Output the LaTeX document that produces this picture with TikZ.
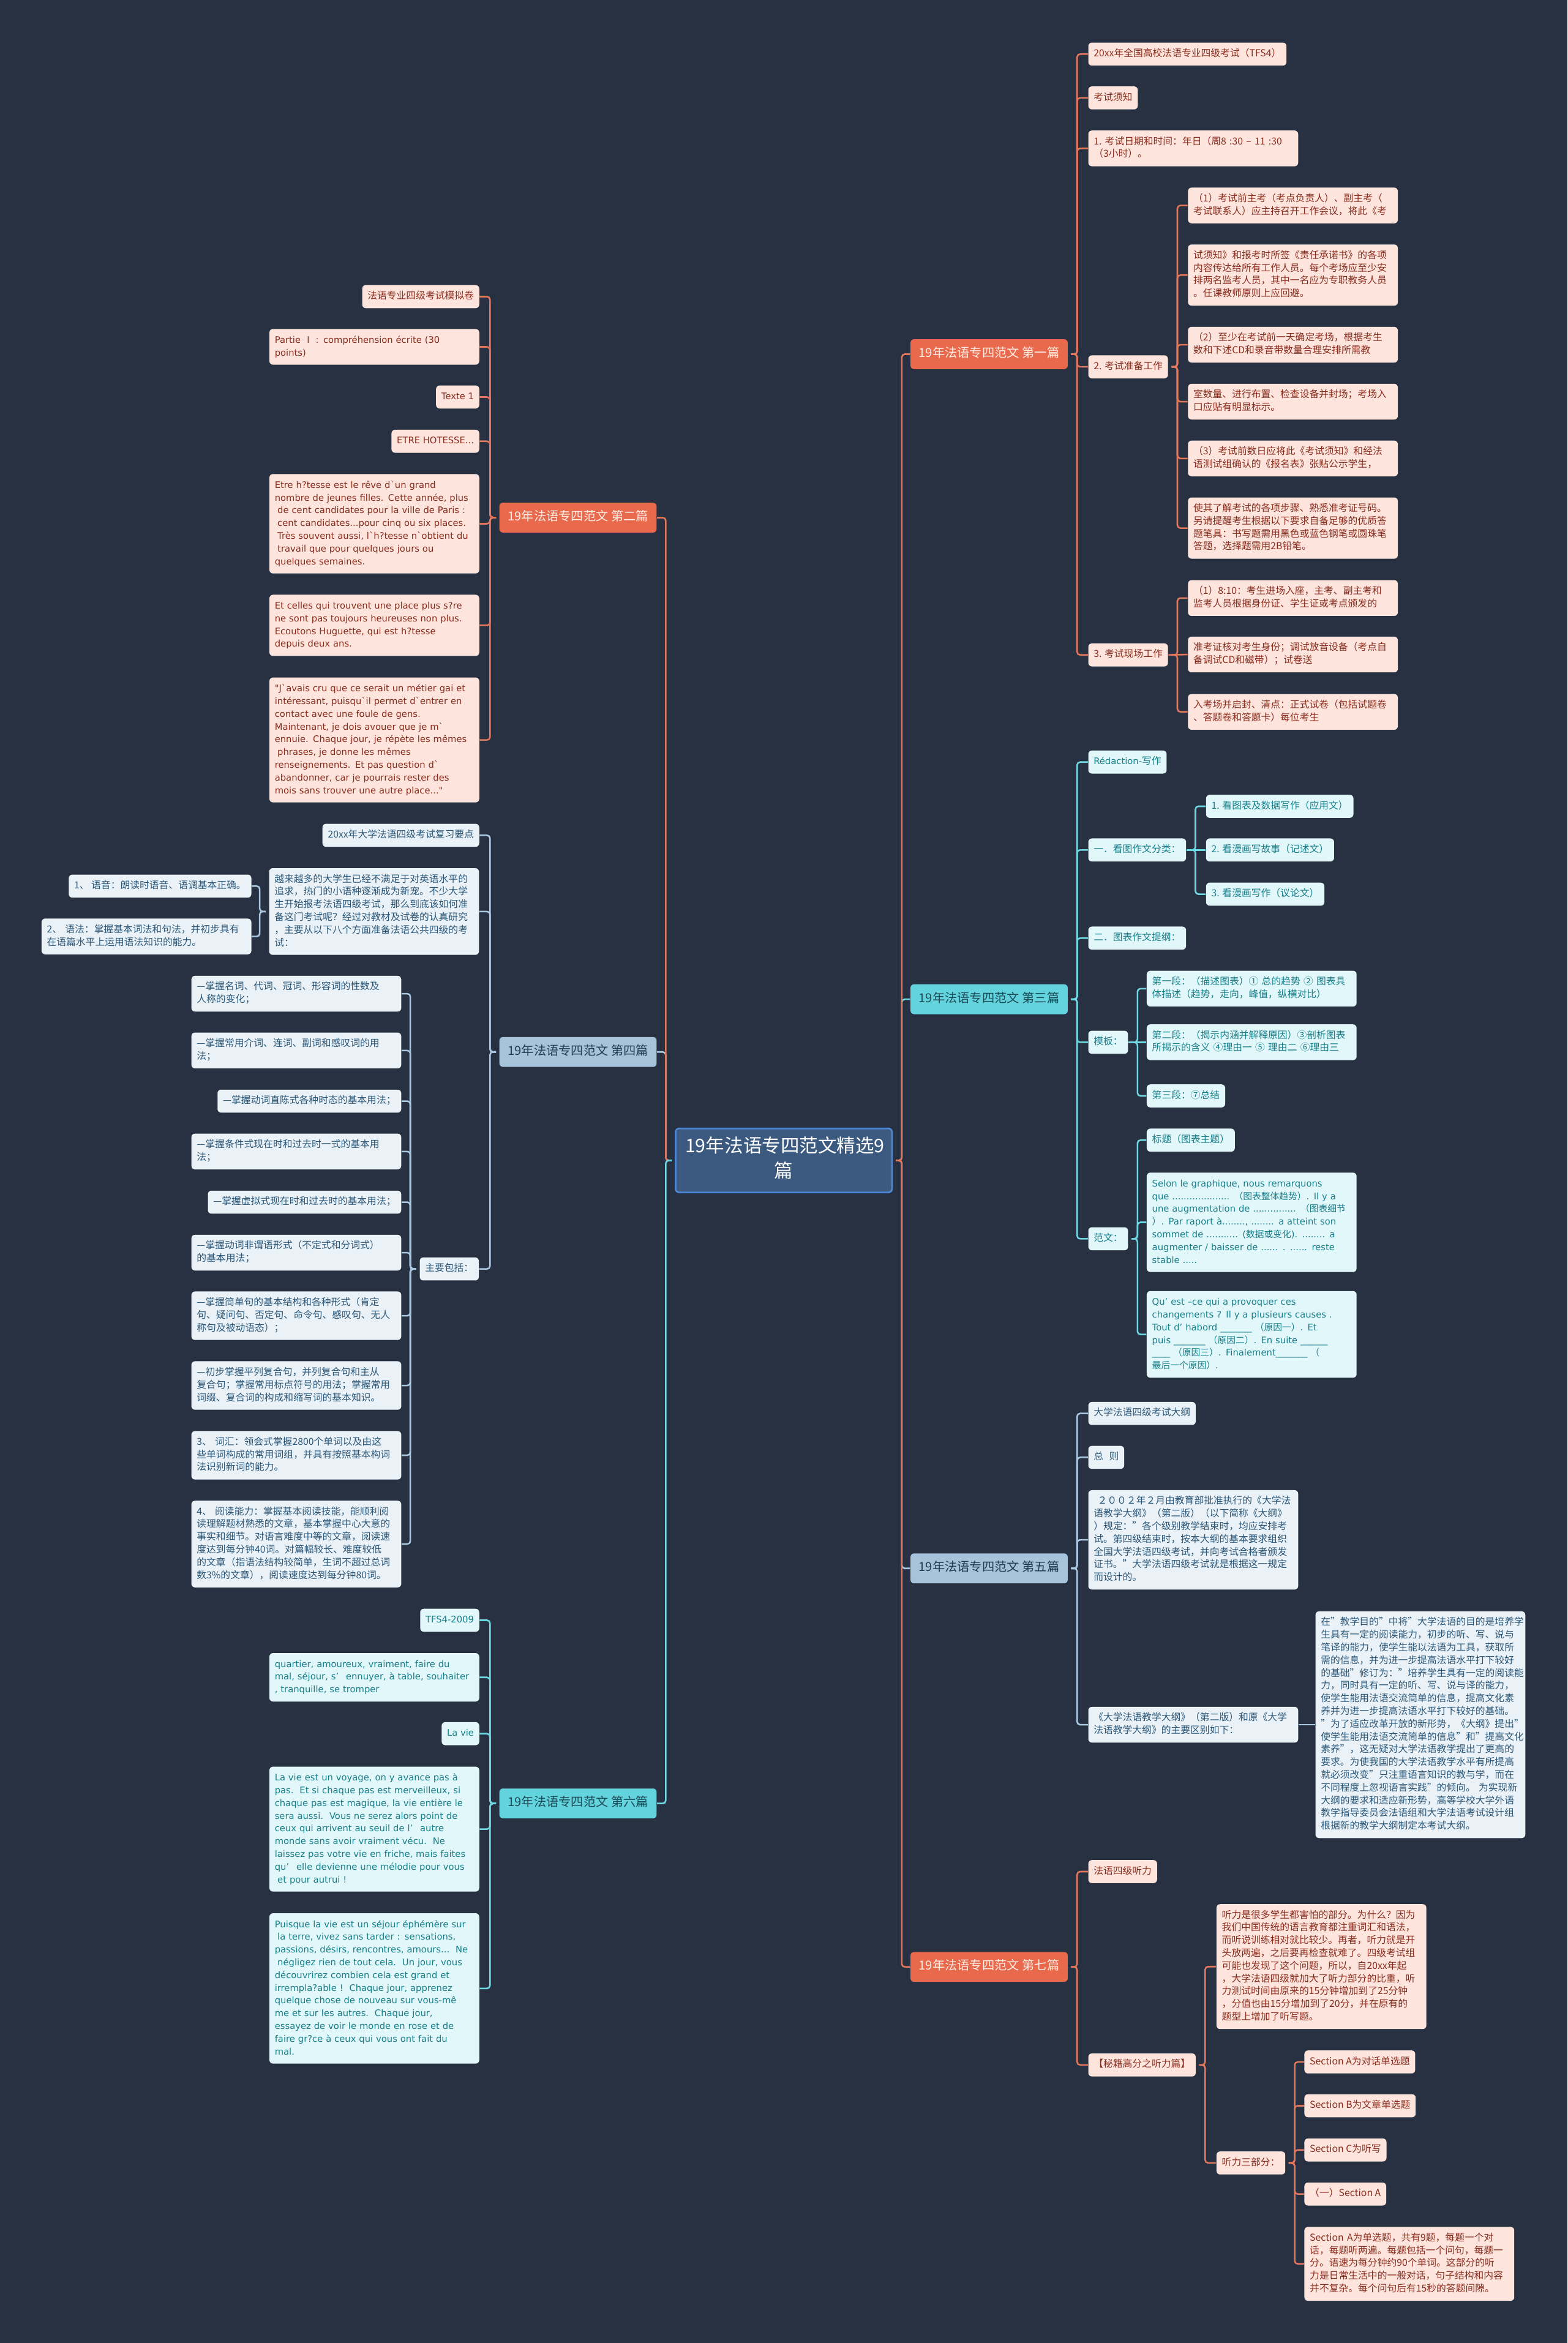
\documentclass[tikz,border=0pt]{standalone}
\usepackage{fontspec}
\setmainfont{Noto Sans CJK SC}
\newfontfamily\zh{Noto Sans CJK SC}
\newfontfamily\fr{DejaVu Sans}
\newcommand\frs{\fr\fontsize{4.3}{6.06}\selectfont}

\definecolor{bgc}{HTML}{283142}
\definecolor{rootfill}{HTML}{3C5A80}
\definecolor{rootline}{HTML}{4D86D1}
\definecolor{orgb}{HTML}{E8694B}
\definecolor{orgl}{HTML}{E4765B}
\definecolor{orgc}{HTML}{FDE5DD}
\definecolor{orgt}{HTML}{8A2C1D}
\definecolor{orgbt}{HTML}{FFEDE6}
\definecolor{cyab}{HTML}{63D4DE}
\definecolor{cyal}{HTML}{6ED8E2}
\definecolor{cyac}{HTML}{E2F7F9}
\definecolor{cyat}{HTML}{16808B}
\definecolor{cyabt}{HTML}{1D4C57}
\definecolor{stlb}{HTML}{A5C3DA}
\definecolor{stll}{HTML}{A9C8DF}
\definecolor{stlc}{HTML}{EAF2F8}
\definecolor{stlt}{HTML}{2B5778}
\definecolor{stlbt}{HTML}{233C55}

\begin{document}
\begin{tikzpicture}[x=0.025cm, y=-0.025cm,
    every node/.style={rounded corners=0.06cm, inner xsep=0.09cm, inner ysep=0.086cm,
      execute at begin node=\strut, execute at end node=\strut},
    rootbox/.style={fill=rootfill, draw=rootline, line width=0.8pt, text=white,
      font=\fontsize{8.9}{10.7}\selectfont, text width=3.3cm, align=center,
      inner xsep=0.16cm, inner ysep=0.14cm},
    branch/.style={font=\fontsize{5.9}{7.4}\selectfont, inner xsep=0.14cm, inner ysep=0.12cm},
    orgbr/.style={branch, fill=orgb, text=orgbt},
    cyabr/.style={branch, fill=cyab, text=cyabt},
    stlbr/.style={branch, fill=stlb, text=stlbt},
    leaf/.style={font=\fontsize{4.6}{6.06}\selectfont},
    orgbox/.style={leaf, fill=orgc, text=orgt},
    cyabox/.style={leaf, fill=cyac, text=cyat},
    stlbox/.style={leaf, fill=stlc, text=stlt},
    frtxt/.style={font=\frs},
    widebox/.style={text width=3.33cm, align=left},
    link/.style={line width=0.75pt, rounded corners=0.05cm},
    orgln/.style={link, draw=orgl},
    cyaln/.style={link, draw=cyal},
    stlln/.style={link, draw=stll}]

  \fill[bgc] (0,0) rectangle (1049,1568);

  % centre and main branches
  \node[rootbox] (root) at (524.5,776.6) {19年法语专四范文精选9\\篇};

  \node[orgbr, anchor=west] (b1) at (609,237) {19年法语专四范文 第一篇};
  \node[cyabr, anchor=west] (b3) at (609,668.7) {19年法语专四范文 第三篇};
  \node[stlbr, anchor=west] (b5) at (609,1049.6) {19年法语专四范文 第五篇};
  \node[orgbr, anchor=west] (b7) at (609,1316.3) {19年法语专四范文 第七篇};
  \node[orgbr, anchor=east] (b2) at (439.7,346.4) {19年法语专四范文 第二篇};
  \node[stlbr, anchor=east] (b4) at (439.7,704) {19年法语专四范文 第四篇};
  \node[cyabr, anchor=east] (b6) at (439.7,1206.9) {19年法语专四范文 第六篇};

  % first
  \node[orgbox, anchor=west] (a1) at (728,36.2) {20xx年全国高校法语专业四级考试（TFS4）};
  \node[orgbox, anchor=west] (a2) at (728,65.5) {考试须知};
  \node[orgbox, widebox, anchor=west] (a3) at (728,99.3) {1.~考试日期和时间：年日（周8~:30~–~11~:30\\（3小时）。};
  \node[orgbox, anchor=west] (a4) at (728,245.5) {2. 考试准备工作};
  \node[orgbox, anchor=west] (a5) at (728,438.3) {3. 考试现场工作};
  \node[orgbox, widebox, anchor=west] (p21) at (794.7,137.5) {（1）考试前主考（考点负责人）、副主考（\\考试联系人）应主持召开工作会议，将此《考};
  \node[orgbox, widebox, anchor=west] (p22) at (794.7,184.1) {试须知》和报考时所签《责任承诺书》的各项\\内容传达给所有工作人员。每个考场应至少安\\排两名监考人员，其中一名应为专职教务人员\\。任课教师原则上应回避。};
  \node[orgbox, widebox, anchor=west] (p23) at (794.7,230.7) {（2）至少在考试前一天确定考场，根据考生\\数和下述CD和录音带数量合理安排所需教};
  \node[orgbox, widebox, anchor=west] (p24) at (794.7,268.8) {室数量、进行布置、检查设备并封场；考场入\\口应贴有明显标示。};
  \node[orgbox, widebox, anchor=west] (p25) at (794.7,306.8) {（3）考试前数日应将此《考试须知》和经法\\语测试组确认的《报名表》张贴公示学生，};
  \node[orgbox, widebox, anchor=west] (p26) at (794.7,353.4) {使其了解考试的各项步骤、熟悉准考证号码。\\另请提醒考生根据以下要求自备足够的优质答\\题笔具：书写题需用黑色或蓝色钢笔或圆珠笔\\答题，选择题需用2B铅笔。};
  \node[orgbox, widebox, anchor=west] (p31) at (794.7,400.2) {（1）8:10：考生进场入座，主考、副主考和\\监考人员根据身份证、学生证或考点颁发的};
  \node[orgbox, widebox, anchor=west] (p32) at (794.7,438) {准考证核对考生身份；调试放音设备（考点自\\备调试CD和磁带）；试卷送};
  \node[orgbox, widebox, anchor=west] (p33) at (794.7,476.4) {入考场并启封、清点：正式试卷（包括试题卷\\、答题卷和答题卡）每位考生};

  % third
  \node[cyabox, anchor=west] (d1) at (728,510) {{\frs Rédaction-}写作};
  \node[cyabox, anchor=west] (d2) at (728,568.8) {一．看图作文分类：};
  \node[cyabox, anchor=west] (e1) at (806.8,539.6) {1. 看图表及数据写作（应用文）};
  \node[cyabox, anchor=west] (e2) at (806.8,568.8) {2. 看漫画写故事（记述文）};
  \node[cyabox, anchor=west] (e3) at (806.8,598.4) {3. 看漫画写作（议论文）};
  \node[cyabox, anchor=west] (d3) at (728,627.8) {二．图表作文提纲：};
  \node[cyabox, anchor=west] (d4) at (728,697.5) {模板：};
  \node[cyabox, widebox, anchor=west] (f1) at (767.1,661.6) {第一段：（描述图表）①~总的趋势~②~图表具\\体描述（趋势，走向，峰值，纵横对比）};
  \node[cyabox, widebox, anchor=west] (f2) at (767.1,697.5) {第二段：（揭示内涵并解释原因）③剖析图表\\所揭示的含义~④理由一~⑤~理由二~⑥理由三};
  \node[cyabox, anchor=west] (f3) at (767.1,733.4) {第三段：⑦总结};
  \node[cyabox, anchor=west] (d5) at (728,829) {范文：};
  \node[cyabox, anchor=west] (g1) at (767.1,763) {标题（图表主题）};
  \node[cyabox, frtxt, widebox, anchor=west] (g2) at (767.1,818) {Selon le graphique, nous remarquons\\que .................... {\zh （图表整体趋势）}. Il y a\\une augmentation de ............... {\zh （图表细节}\\{\zh ）}. Par raport à........, ........ a atteint son\\sommet de ........... ({\zh 数据或变化}). ........ a\\augmenter / baisser de ...... . ...... reste\\stable .....};
  \node[cyabox, frtxt, widebox, anchor=west] (g3) at (767.1,893) {Qu’ est –ce qui a provoquer ces\\changements ? Il y a plusieurs causes .\\Tout d’ habord \_\_\_\_\_\_\_ {\zh （原因一）}. Et\\puis \_\_\_\_\_\_\_ {\zh （原因二）}. En suite \_\_\_\_\_\_\\\_\_\_\_ {\zh （原因三）}. Finalement\_\_\_\_\_\_\_ {\zh （}\\{\zh 最后一个原因）}.};

  % fifth
  \node[stlbox, anchor=west] (h1) at (728,945.9) {大学法语四级考试大纲};
  \node[stlbox, anchor=west] (h2) at (728,975.3) {总\hspace{0.6em}则};
  \node[stlbox, widebox, anchor=west] (h3) at (728,1030.5) {\hspace{0.4em}２００２年２月由教育部批准执行的《大学法\\语教学大纲》（第二版）（以下简称《大纲》\\）规定："各个级别教学结束时，均应安排考\\试。第四级结束时，按本大纲的基本要求组织\\全国大学法语四级考试，并向考试合格者颁发\\证书。"大学法语四级考试就是根据这一规定\\而设计的。};
  \node[stlbox, widebox, anchor=west] (h4) at (728,1154.2) {《大学法语教学大纲》（第二版）和原《大学\\法语教学大纲》的主要区别如下：};
  \node[stlbox, widebox, anchor=west] (i1) at (880,1154.2) {在"教学目的"中将"大学法语的目的是培养学\\生具有一定的阅读能力，初步的听、写、说与\\笔译的能力，使学生能以法语为工具，获取所\\需的信息，并为进一步提高法语水平打下较好\\的基础"修订为："培养学生具有一定的阅读能\\力，同时具有一定的听、写、说与译的能力，\\使学生能用法语交流简单的信息，提高文化素\\养并为进一步提高法语水平打下较好的基础。\\"为了适应改革开放的新形势，《大纲》提出"\\使学生能用法语交流简单的信息"和"提高文化\\素养"，这无疑对大学法语教学提出了更高的\\要求。为使我国的大学法语教学水平有所提高\\就必须改变"只注重语言知识的教与学，而在\\不同程度上忽视语言实践"的倾向。~为实现新\\大纲的要求和适应新形势，高等学校大学外语\\教学指导委员会法语组和大学法语考试设计组\\根据新的教学大纲制定本考试大纲。};

  % seventh
  \node[orgbox, anchor=west] (j1) at (728,1252.5) {法语四级听力};
  \node[orgbox, anchor=west] (j2) at (728,1381.9) {【秘籍高分之听力篇】};
  \node[orgbox, widebox, anchor=west] (k1) at (813.8,1316.1) {听力是很多学生都害怕的部分。为什么？因为\\我们中国传统的语言教育都注重词汇和语法，\\而听说训练相对就比较少。再者，听力就是开\\头放两遍，之后要再检查就难了。四级考试组\\可能也发现了这个问题，所以，自20xx年起\\，大学法语四级就加大了听力部分的比重，听\\力测试时间由原来的15分钟增加到了25分钟\\，分值也由15分增加到了20分，并在原有的\\题型上增加了听写题。};
  \node[orgbox, anchor=west] (k2) at (813.8,1447.5) {听力三部分：};
  \node[orgbox, anchor=west] (l1) at (872.6,1379.9) {Section A为对话单选题};
  \node[orgbox, anchor=west] (l2) at (872.6,1409.2) {Section B为文章单选题};
  \node[orgbox, anchor=west] (l3) at (872.6,1438.8) {Section C为听写};
  \node[orgbox, anchor=west] (l4) at (872.6,1468.3) {（一）Section A};
  \node[orgbox, widebox, anchor=west] (l5) at (872.6,1515) {Section~A为单选题，共有9题，每题一个对\\话，每题听两遍。每题包括一个问句，每题一\\分。语速为每分钟约90个单词。这部分的听\\力是日常生活中的一般对话，句子结构和内容\\并不复杂。每个问句后有15秒的答题间隙。};

  % second
  \node[orgbox, anchor=east] (m1) at (321,198.5) {法语专业四级考试模拟卷};
  \node[orgbox, frtxt, widebox, anchor=east] (m2) at (321,232.1) {Partie {\zh Ⅰ} : compréhension écrite (30\\points)};
  \node[orgbox, frtxt, anchor=east] (m3) at (321,265.7) {Texte 1};
  \node[orgbox, frtxt, anchor=east] (m4) at (321,295.3) {ETRE HOTESSE...};
  \node[orgbox, frtxt, widebox, anchor=east] (m5) at (321,350.5) {Etre h?tesse est le rêve d`un grand\\nombre de jeunes filles. Cette année, plus\\\hspace{0.3em}de cent candidates pour la ville de Paris :\\\hspace{0.3em}cent candidates...pour cinq ou six places.\\\hspace{0.3em}Très souvent aussi, l`h?tesse n`obtient du\\\hspace{0.3em}travail que pour quelques jours ou\\quelques semaines.};
  \node[orgbox, frtxt, widebox, anchor=east] (m6) at (321,418.5) {Et celles qui trouvent une place plus s?re\\ne sont pas toujours heureuses non plus.\\Ecoutons Huguette, qui est h?tesse\\depuis deux ans.};
  \node[orgbox, frtxt, widebox, anchor=east] (m7) at (321,495.2) {"J`avais cru que ce serait un métier gai et\\intéressant, puisqu`il permet d`entrer en\\contact avec une foule de gens.\\Maintenant, je dois avouer que je m`\\ennuie. Chaque jour, je répète les mêmes\\\hspace{0.3em}phrases, je donne les mêmes\\renseignements. Et pas question d`\\abandonner, car je pourrais rester des\\mois sans trouver une autre place..."};

  % fourth
  \node[stlbox, anchor=east] (n1) at (321,559) {20xx年大学法语四级考试复习要点};
  \node[stlbox, widebox, anchor=east] (n2) at (320.8,610) {越来越多的大学生已经不满足于对英语水平的\\追求，热门的小语种逐渐成为新宠。不少大学\\生开始报考法语四级考试，那么到底该如何准\\备这门考试呢？经过对教材及试卷的认真研究\\，主要从以下八个方面准备法语公共四级的考\\试：};
  \node[stlbox, anchor=east] (o1) at (168.5,593) {1、 语音：朗读时语音、语调基本正确。};
  \node[stlbox, widebox, anchor=east] (o2) at (168.5,626.7) {2、~语法：掌握基本词法和句法，并初步具有\\在语篇水平上运用语法知识的能力。};
  \node[stlbox, anchor=east] (n3) at (320.7,849.2) {主要包括：};
  \node[stlbox, widebox, anchor=east] (q1) at (268.8,665) {—掌握名词、代词、冠词、形容词的性数及\\人称的变化；};
  \node[stlbox, widebox, anchor=east] (q2) at (268.8,703) {—掌握常用介词、连词、副词和感叹词的用\\法；};
  \node[stlbox, anchor=east] (q3) at (268.8,736.9) {—掌握动词直陈式各种时态的基本用法；};
  \node[stlbox, widebox, anchor=east] (q4) at (268.8,770.6) {—掌握条件式现在时和过去时一式的基本用\\法；};
  \node[stlbox, anchor=east] (q5) at (268.8,804.5) {—掌握虚拟式现在时和过去时的基本用法；};
  \node[stlbox, widebox, anchor=east] (q6) at (268.8,838.3) {—掌握动词非谓语形式（不定式和分词式）\\的基本用法；};
  \node[stlbox, widebox, anchor=east] (q7) at (268.8,880.5) {—掌握简单句的基本结构和各种形式（肯定\\句、疑问句、否定句、命令句、感叹句、无人\\称句及被动语态）；};
  \node[stlbox, widebox, anchor=east] (q8) at (268.8,927.2) {—初步掌握平列复合句，并列复合句和主从\\复合句；掌握常用标点符号的用法；掌握常用\\词缀、复合词的构成和缩写词的基本知识。};
  \node[stlbox, widebox, anchor=east] (q9) at (268.8,973.9) {3、~词汇：领会式掌握2800个单词以及由这\\些单词构成的常用词组，并具有按照基本构词\\法识别新词的能力。};
  \node[stlbox, widebox, anchor=east] (q10) at (268.8,1033.3) {4、~阅读能力：掌握基本阅读技能，能顺利阅\\读理解题材熟悉的文章，基本掌握中心大意的\\事实和细节。对语言难度中等的文章，阅读速\\度达到每分钟40词。对篇幅较长、难度较低\\的文章（指语法结构较简单，生词不超过总词\\数3\%的文章），阅读速度达到每分钟80词。};

  % sixth
  \node[cyabox, frtxt, anchor=east] (s1) at (321,1084.3) {TFS4-2009};
  \node[cyabox, frtxt, widebox, anchor=east] (s2) at (321,1122.5) {quartier, amoureux, vraiment, faire du\\mal, séjour, s’\hspace{0.8em}ennuyer, à table, souhaiter\\, tranquille, se tromper};
  \node[cyabox, frtxt, anchor=east] (s3) at (321,1160.2) {La vie};
  \node[cyabox, frtxt, widebox, anchor=east] (s4) at (321,1224.1) {La vie est un voyage, on y avance pas à\\pas.\ \ Et si chaque pas est merveilleux, si\\chaque pas est magique, la vie entière le\\sera aussi.\ \ Vous ne serez alors point de\\ceux qui arrivent au seuil de l’\hspace{0.8em}autre\\monde sans avoir vraiment vécu.\ \ Ne\\laissez pas votre vie en friche, mais faites\\qu’\hspace{0.8em}elle devienne une mélodie pour vous\\\hspace{0.3em}et pour autrui !};
  \node[cyabox, frtxt, widebox, anchor=east] (s5) at (321,1330.7) {Puisque la vie est un séjour éphémère sur\\\hspace{0.3em}la terre, vivez sans tarder : sensations,\\passions, désirs, rencontres, amours...\ \ Ne\\\hspace{0.3em}négligez rien de tout cela.\ \ Un jour, vous\\découvrirez combien cela est grand et\\irrempla?able !\ \ Chaque jour, apprenez\\quelque chose de nouveau sur vous-mê\\me et sur les autres.\ \ Chaque jour,\\essayez de voir le monde en rose et de\\faire gr?ce à ceux qui vous ont fait du\\mal.};

  % braces from the centre
  \draw[stlln] (root.east) ++(2,0) -- ++(4,0) |- (b5.west);
  \draw[cyaln] (root.east) ++(2,0) -- ++(4,0) |- (b3.west);
  \draw[orgln] (root.east) ++(2,0) -- ++(4,0) |- (b1.west);
  \draw[orgln] (root.east) ++(2,0) -- ++(4,0) |- (b7.west);
  \draw[stlln] (root.west) ++(-2,0) -- ++(-4,0) |- (b4.east);
  \draw[orgln] (root.west) ++(-2,0) -- ++(-4,0) |- (b2.east);
  \draw[cyaln] (root.west) ++(-2,0) -- ++(-4,0) |- (b6.east);

  % first
  \draw[orgln] (b1.east) ++(2,0) -- ++(4,0) |- (a1.west);
  \draw[orgln] (b1.east) ++(2,0) -- ++(4,0) |- (a2.west);
  \draw[orgln] (b1.east) ++(2,0) -- ++(4,0) |- (a3.west);
  \draw[orgln] (b1.east) ++(2,0) -- ++(4,0) |- (a4.west);
  \draw[orgln] (b1.east) ++(2,0) -- ++(4,0) |- (a5.west);
  \draw[orgln] (a4.east) ++(2,0) -- ++(4,0) |- (p21.west);
  \draw[orgln] (a4.east) ++(2,0) -- ++(4,0) |- (p22.west);
  \draw[orgln] (a4.east) ++(2,0) -- ++(4,0) |- (p23.west);
  \draw[orgln] (a4.east) ++(2,0) -- ++(4,0) |- (p24.west);
  \draw[orgln] (a4.east) ++(2,0) -- ++(4,0) |- (p25.west);
  \draw[orgln] (a4.east) ++(2,0) -- ++(4,0) |- (p26.west);
  \draw[orgln] (a5.east) ++(2,0) -- ++(4,0) |- (p31.west);
  \draw[orgln] (a5.east) -- (p32.west);
  \draw[orgln] (a5.east) ++(2,0) -- ++(4,0) |- (p33.west);

  % third
  \draw[cyaln] (b3.east) ++(2,0) -- ++(4,0) |- (d1.west);
  \draw[cyaln] (b3.east) ++(2,0) -- ++(4,0) |- (d2.west);
  \draw[cyaln] (b3.east) ++(2,0) -- ++(4,0) |- (d3.west);
  \draw[cyaln] (b3.east) ++(2,0) -- ++(4,0) |- (d4.west);
  \draw[cyaln] (b3.east) ++(2,0) -- ++(4,0) |- (d5.west);
  \draw[cyaln] (d2.east) ++(2,0) -- ++(4,0) |- (e1.west);
  \draw[cyaln] (d2.east) -- (e2.west);
  \draw[cyaln] (d2.east) ++(2,0) -- ++(4,0) |- (e3.west);
  \draw[cyaln] (d4.east) ++(2,0) -- ++(4,0) |- (f1.west);
  \draw[cyaln] (d4.east) -- (f2.west);
  \draw[cyaln] (d4.east) ++(2,0) -- ++(4,0) |- (f3.west);
  \draw[cyaln] (d5.east) ++(2,0) -- ++(4,0) |- (g1.west);
  \draw[cyaln] (d5.east) ++(2,0) -- ++(4,0) |- (g2.west);
  \draw[cyaln] (d5.east) ++(2,0) -- ++(4,0) |- (g3.west);

  % fifth
  \draw[stlln] (b5.east) ++(2,0) -- ++(4,0) |- (h1.west);
  \draw[stlln] (b5.east) ++(2,0) -- ++(4,0) |- (h2.west);
  \draw[stlln] (b5.east) ++(2,0) -- ++(4,0) |- (h3.west);
  \draw[stlln] (b5.east) ++(2,0) -- ++(4,0) |- (h4.west);
  \draw[stlln] (h4.east) -- (i1.west);

  % seventh
  \draw[orgln] (b7.east) ++(2,0) -- ++(4,0) |- (j1.west);
  \draw[orgln] (b7.east) ++(2,0) -- ++(4,0) |- (j2.west);
  \draw[orgln] (j2.east) ++(2,0) -- ++(4,0) |- (k1.west);
  \draw[orgln] (j2.east) ++(2,0) -- ++(4,0) |- (k2.west);
  \draw[orgln] (k2.east) ++(2,0) -- ++(4,0) |- (l1.west);
  \draw[orgln] (k2.east) ++(2,0) -- ++(4,0) |- (l2.west);
  \draw[orgln] (k2.east) ++(2,0) -- ++(4,0) |- (l3.west);
  \draw[orgln] (k2.east) ++(2,0) -- ++(4,0) |- (l4.west);
  \draw[orgln] (k2.east) ++(2,0) -- ++(4,0) |- (l5.west);

  % second
  \draw[orgln] (b2.west) ++(-2,0) -- ++(-4,0) |- (m1.east);
  \draw[orgln] (b2.west) ++(-2,0) -- ++(-4,0) |- (m2.east);
  \draw[orgln] (b2.west) ++(-2,0) -- ++(-4,0) |- (m3.east);
  \draw[orgln] (b2.west) ++(-2,0) -- ++(-4,0) |- (m4.east);
  \draw[orgln] (b2.west) ++(-2,0) -- ++(-4,0) |- (m5.east);
  \draw[orgln] (b2.west) ++(-2,0) -- ++(-4,0) |- (m6.east);
  \draw[orgln] (b2.west) ++(-2,0) -- ++(-4,0) |- (m7.east);

  % fourth
  \draw[stlln] (b4.west) ++(-2,0) -- ++(-4,0) |- (n1.east);
  \draw[stlln] (b4.west) ++(-2,0) -- ++(-4,0) |- (n2.east);
  \draw[stlln] (b4.west) ++(-2,0) -- ++(-4,0) |- (n3.east);
  \draw[stlln] (n2.west) ++(-2,0) -- ++(-4,0) |- (o1.east);
  \draw[stlln] (n2.west) ++(-2,0) -- ++(-4,0) |- (o2.east);
  \draw[stlln] (n3.west) ++(-2,0) -- ++(-4,0) |- (q1.east);
  \draw[stlln] (n3.west) ++(-2,0) -- ++(-4,0) |- (q2.east);
  \draw[stlln] (n3.west) ++(-2,0) -- ++(-4,0) |- (q3.east);
  \draw[stlln] (n3.west) ++(-2,0) -- ++(-4,0) |- (q4.east);
  \draw[stlln] (n3.west) ++(-2,0) -- ++(-4,0) |- (q5.east);
  \draw[stlln] (n3.west) ++(-2,0) -- ++(-4,0) |- (q6.east);
  \draw[stlln] (n3.west) ++(-2,0) -- ++(-4,0) |- (q7.east);
  \draw[stlln] (n3.west) ++(-2,0) -- ++(-4,0) |- (q8.east);
  \draw[stlln] (n3.west) ++(-2,0) -- ++(-4,0) |- (q9.east);
  \draw[stlln] (n3.west) ++(-2,0) -- ++(-4,0) |- (q10.east);

  % sixth
  \draw[cyaln] (b6.west) ++(-2,0) -- ++(-4,0) |- (s1.east);
  \draw[cyaln] (b6.west) ++(-2,0) -- ++(-4,0) |- (s2.east);
  \draw[cyaln] (b6.west) ++(-2,0) -- ++(-4,0) |- (s3.east);
  \draw[cyaln] (b6.west) ++(-2,0) -- ++(-4,0) |- (s4.east);
  \draw[cyaln] (b6.west) ++(-2,0) -- ++(-4,0) |- (s5.east);
\end{tikzpicture}
\end{document}
